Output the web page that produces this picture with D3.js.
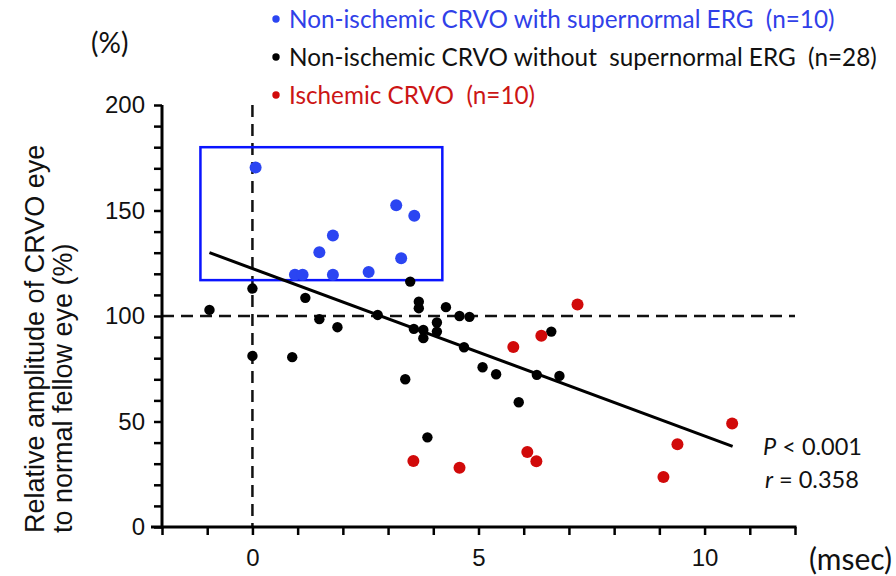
<!DOCTYPE html>
<html>
<head>
<meta charset="utf-8">
<script src="https://cdn.jsdelivr.net/npm/d3@7"></script>
<style>
  html, body { margin: 0; padding: 0; background: #fff; }
  svg { display: block; }
</style>
</head>
<body>
<div class="vis-scatter"></div>
<script>
// latency difference (msec) vs relative amplitude (%)
const supernormal = [
    [0.07, 170.4], [3.18, 152.5], [3.58, 147.5], [1.78, 138.1], [1.48, 130.2],
    [3.29, 127.4], [0.94, 119.5], [1.11, 119.5], [1.78, 119.5], [2.57, 120.8]
];
const nonIschemic = [
    [0.0, 113.0], [-0.95, 102.9], [1.17, 108.6], [1.48, 98.5], [1.88, 94.7],
    [0.0, 81.1], [0.88, 80.5], [2.77, 100.5], [3.49, 116.3], [3.68, 106.8],
    [3.68, 103.7], [4.28, 104.2], [3.57, 93.9], [3.78, 93.4], [3.78, 89.5],
    [4.08, 96.9], [4.08, 92.6], [4.58, 100.0], [4.8, 99.6], [4.68, 85.2],
    [3.38, 70.0], [3.87, 42.5], [5.09, 75.7], [5.39, 72.4], [6.29, 72.1],
    [6.79, 71.6], [6.61, 92.6], [5.89, 59.1]
];
const ischemic = [
    [7.19, 105.4], [6.39, 90.6], [5.77, 85.3], [10.61, 49.0], [9.40, 39.2],
    [6.08, 35.6], [6.28, 31.2], [4.58, 28.1], [9.09, 23.7], [3.56, 31.3]
];
const legendLabels = [
    "Non-ischemic CRVO with supernormal ERG  (n=10)",
    "Non-ischemic CRVO without  supernormal ERG  (n=28)",
    "Ischemic CRVO  (n=10)"
];
const xMajorTicks = [0, 5, 10];
const yMajorTicks = [0, 50, 100, 150, 200];
const regression = { slope: -7.94, intercept: 122.5, from: -0.95, to: 10.62 };
const supernormalBox = { x0: -1.15, x1: 4.2, y0: 117, y1: 180 };

const blue = "#2b45f2", red = "#d10a0a";
const colors = [blue, "#000", red];
const textColors = ["#3040e8", "#111", "#cc1515"];

const svg = d3.select(".vis-scatter")
    .append("svg")
    .attr("width", 896)
    .attr("height", 576);

const x = d3.scaleLinear().domain([-2, 12]).range([162, 795]);
const y = d3.scaleLinear().domain([0, 200]).range([527, 105]);

// dashed reference lines
svg.append("line")
    .attr("x1", x(0)).attr("x2", x(0))
    .attr("y1", y(200)).attr("y2", y(0))
    .attr("stroke", "#111").attr("stroke-width", 2.5)
    .attr("stroke-dasharray", "12,7");
svg.append("line")
    .attr("x1", x(-2)).attr("x2", x(12))
    .attr("y1", y(100)).attr("y2", y(100))
    .attr("stroke", "#111").attr("stroke-width", 2.5)
    .attr("stroke-dasharray", "12,7");

// Y axis
const yAxis = svg.append("g")
    .attr("transform", "translate(" + x(-2) + ",0)")
    .call(d3.axisLeft(y).tickValues(d3.range(0, 201, 10)).tickSize(8)
        .tickFormat(d => yMajorTicks.includes(d) ? d : ""));
yAxis.select(".domain").attr("stroke-width", 3).attr("d", "M0," + (y(0) + 1.5) + "V" + y(200));
yAxis.selectAll(".tick line").attr("stroke-width", 2.5);
yAxis.selectAll(".tick text")
    .attr("x", -17)
    .style("font-family", "'Liberation Sans', Arial, sans-serif")
    .style("font-size", "24px")
    .attr("fill", "#111");

// X axis
const xAxis = svg.append("g")
    .attr("transform", "translate(0," + y(0) + ")")
    .call(d3.axisBottom(x).tickValues(d3.range(-2, 13, 1)).tickSize(8)
        .tickFormat(d => xMajorTicks.includes(d) ? d : ""));
xAxis.select(".domain").attr("stroke-width", 3).attr("d", "M" + (x(-2) - 11) + ",0H" + (x(12) + 1.5));
xAxis.selectAll(".tick line").attr("stroke-width", 2.5);
xAxis.selectAll(".tick text")
    .attr("y", 22)
    .style("font-family", "'Liberation Sans', Arial, sans-serif")
    .style("font-size", "24px")
    .attr("fill", "#111");

// supernormal box
svg.append("rect")
    .attr("x", x(supernormalBox.x0))
    .attr("y", y(supernormalBox.y1))
    .attr("width", x(supernormalBox.x1) - x(supernormalBox.x0))
    .attr("height", y(supernormalBox.y0) - y(supernormalBox.y1))
    .attr("fill", "none")
    .attr("stroke", "#0a14ff")
    .attr("stroke-width", 2.5);

// regression line
svg.append("path")
    .datum([regression.from, regression.to])
    .attr("fill", "none")
    .attr("stroke", "#000")
    .attr("stroke-width", 3)
    .attr("d", d3.line()
        .x(d => x(d))
        .y(d => y(regression.intercept + regression.slope * d)));

// points
[supernormal, nonIschemic, ischemic].forEach(function (group, i) {
    svg.append("g")
        .selectAll("circle")
        .data(group)
        .join("circle")
        .attr("cx", d => x(d[0]))
        .attr("cy", d => y(d[1]))
        .attr("r", i === 1 ? 5.2 : 6)
        .attr("fill", colors[i]);
});

// legend
const legend = svg.append("g").attr("transform", "translate(276,0)");
legendLabels.forEach(function (label, i) {
    legend.append("circle")
        .attr("cx", 0).attr("cy", 19 + i * 38)
        .attr("r", 3.7)
        .attr("fill", colors[i]);
    legend.append("text")
        .attr("x", 13).attr("y", 28 + i * 38)
        .style("font-family", "Lato, sans-serif")
        .style("font-size", "24.3px")
        .style("white-space", "pre")
        .attr("fill", textColors[i])
        .text(label);
});

// axis titles
const title = svg.append("g")
    .style("font-family", "'Liberation Sans', Arial, sans-serif")
    .style("font-size", "27px")
    .attr("fill", "#111");
title.append("text")
    .attr("transform", "translate(44,533) rotate(-90)")
    .text("Relative amplitude of CRVO eye");
title.append("text")
    .attr("transform", "translate(72,533) rotate(-90)")
    .text("to normal fellow eye (%)");

svg.append("text")
    .attr("x", 91).attr("y", 53)
    .style("font-family", "Lato, sans-serif")
    .style("font-size", "28px")
    .attr("fill", "#111")
    .text("(%)");
svg.append("text")
    .attr("x", 809).attr("y", 570)
    .style("font-family", "Lato, sans-serif")
    .style("font-size", "30px")
    .attr("fill", "#111")
    .text("(msec)");

// statistics
const stats = svg.append("g")
    .style("font-family", "Lato, sans-serif")
    .style("font-size", "23.5px")
    .attr("fill", "#111");
const p = stats.append("text").attr("x", 763).attr("y", 455);
p.append("tspan").style("font-style", "italic").text("P");
p.append("tspan").text(" < 0.001");
const r = stats.append("text").attr("x", 765).attr("y", 488);
r.append("tspan").style("font-style", "italic").text("r");
r.append("tspan").text(" = 0.358");
</script>
</body>
</html>
